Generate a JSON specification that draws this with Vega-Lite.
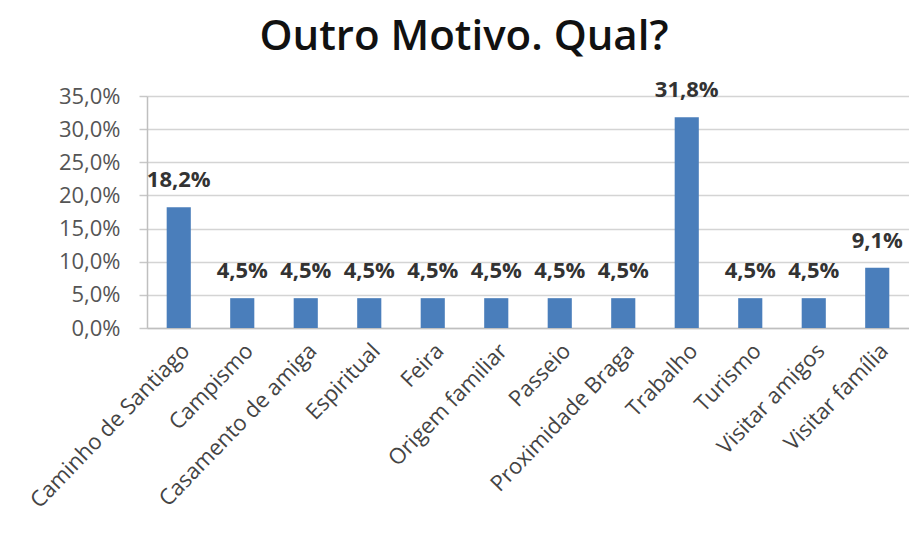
{
  "$schema": "https://vega.github.io/schema/vega-lite/v6.json",
  "autosize": "none",
  "width": 762,
  "height": 232,
  "padding": {"left": 147, "top": 96, "right": 0, "bottom": 206},
  "background": "white",
  "config": {
    "locale": {"number": {"decimal": ",", "thousands": ".", "grouping": [3], "currency": ["", " €"]}},
    "view": {"stroke": null},
    "font": "Open Sans"
  },
  "title": {
    "text": "Outro Motivo. Qual?",
    "fontSize": 42,
    "fontWeight": 600,
    "font": "Open Sans",
    "color": "#111111",
    "anchor": "middle",
    "dx": -64,
    "offset": 20
  },
  "data": {
    "values": [
      {"motivo": "Caminho de Santiago", "valor": 0.182},
      {"motivo": "Campismo", "valor": 0.045},
      {"motivo": "Casamento de amiga", "valor": 0.045},
      {"motivo": "Espiritual", "valor": 0.045},
      {"motivo": "Feira", "valor": 0.045},
      {"motivo": "Origem familiar", "valor": 0.045},
      {"motivo": "Passeio", "valor": 0.045},
      {"motivo": "Proximidade Braga", "valor": 0.045},
      {"motivo": "Trabalho", "valor": 0.318},
      {"motivo": "Turismo", "valor": 0.045},
      {"motivo": "Visitar amigos", "valor": 0.045},
      {"motivo": "Visitar família", "valor": 0.091}
    ]
  },
  "encoding": {
    "x": {
      "field": "motivo", "type": "nominal", "sort": null,
      "scale": {"paddingInner": 0.62, "paddingOuter": 0.31},
      "axis": {
        "title": null, "labelAngle": -46, "labelAlign": "right", "labelBaseline": "top",
        "labelFontSize": 22, "labelColor": "#444444", "labelPadding": 12, "labelLimit": 500,
        "ticks": false, "domainColor": "#bfbfbf", "domainWidth": 1.5, "labelOverlap": false
      }
    },
    "y": {
      "field": "valor", "type": "quantitative",
      "scale": {"domain": [0, 0.35], "nice": false},
      "axis": {
        "title": null, "format": ".1%", "values": [0, 0.05, 0.1, 0.15, 0.2, 0.25, 0.3, 0.35],
        "labelFontSize": 22, "labelColor": "#555555", "labelPadding": 19,
        "gridColor": "#d4d4d4", "gridWidth": 1.5, "domainColor": "#bfbfbf", "domainWidth": 1.5,
        "tickColor": "#c8c8c8", "tickSize": 8, "tickWidth": 1.5
      }
    }
  },
  "layer": [
    {"mark": {"type": "bar", "color": "#4a7ebb"}},
    {
      "mark": {"type": "text", "baseline": "alphabetic", "dy": -20, "fontSize": 22, "fontWeight": "bold", "color": "#333333"},
      "encoding": {"text": {"field": "valor", "type": "quantitative", "format": ".1%"}}
    }
  ]
}
